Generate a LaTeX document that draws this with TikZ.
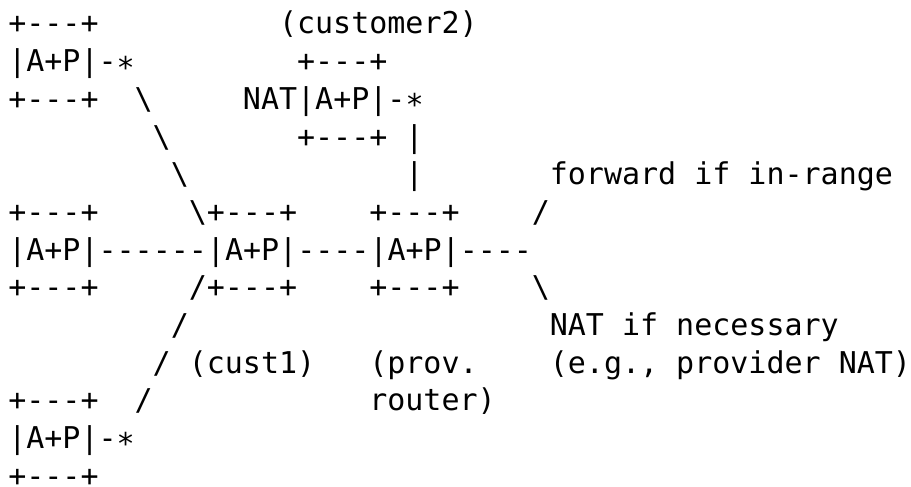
\documentclass[tikz,border=0pt]{standalone}
\usepackage{fontspec}
\setmonofont{DejaVu Sans Mono}
\begin{document}
\begin{tikzpicture}[x=9.025pt,y=-18.835pt,
  txt/.style={anchor=base west,inner sep=0pt,outer sep=0pt,font=\ttfamily\fontsize{15pt}{18pt}\selectfont}]
\useasboundingbox (-0.46,-0.9026) rectangle (50.01,12.0);
\newcommand\bs{\textbackslash}
\newcommand\lowstar{\raisebox{-3.2pt}{*}}
% row 0
\node[txt] (r0a) at (0,0) {+---+};
\node[txt] (r0b) at (15,0) {(customer2)};
% row 1
\node[txt] (r1a) at (0,1) {|A+P|-\lowstar};
\node[txt] (r1b) at (16,1) {+---+};
% row 2
\node[txt] (r2a) at (0,2) {+---+};
\node[txt] (r2b) at (7,2) {\bs};
\node[txt] (r2c) at (13,2) {NAT|A+P|-\lowstar};
% row 3
\node[txt] (r3a) at (8,3) {\bs};
\node[txt] (r3b) at (16,3) {+---+};
\node[txt] (r3c) at (22,3) {|};
% row 4
\node[txt] (r4a) at (9,4) {\bs};
\node[txt] (r4b) at (22,4) {|};
\node[txt] (r4c) at (30,4) {forward if in-range};
% row 5
\node[txt] (r5a) at (0,5) {+---+};
\node[txt] (r5b) at (10,5) {\bs+---+};
\node[txt] (r5c) at (20,5) {+---+};
\node[txt] (r5d) at (29,5) {/};
% row 6
\node[txt] (r6a) at (0,6) {|A+P|------|A+P|----|A+P|----};
% row 7
\node[txt] (r7a) at (0,7) {+---+};
\node[txt] (r7b) at (10,7) {/+---+};
\node[txt] (r7c) at (20,7) {+---+};
\node[txt] (r7d) at (29,7) {\bs};
% row 8
\node[txt] (r8a) at (9,8) {/};
\node[txt] (r8b) at (30,8) {NAT if necessary};
% row 9
\node[txt] (r9a) at (8,9) {/};
\node[txt] (r9b) at (10,9) {(cust1)};
\node[txt] (r9c) at (20,9) {(prov.};
\node[txt] (r9d) at (30,9) {(e.g., provider NAT)};
% row 10
\node[txt] (r10a) at (0,10) {+---+};
\node[txt] (r10b) at (7,10) {/};
\node[txt] (r10c) at (20,10) {router)};
% row 11
\node[txt] (r11a) at (0,11) {|A+P|-\lowstar};
% row 12
\node[txt] (r12a) at (0,12) {+---+};
\end{tikzpicture}
\end{document}
